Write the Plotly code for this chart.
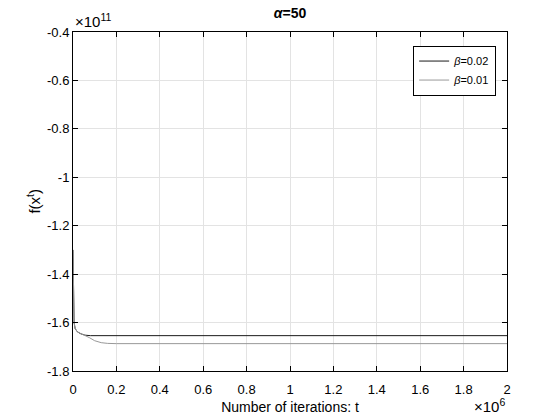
import plotly.graph_objects as go

# iterations and objective values
t_b02 = [0, 1000, 2500, 5000, 10000, 20000, 35000, 55000, 80000, 2000000]
f_b02 = [-1.30e11, -1.45e11, -1.55e11, -1.60e11, -1.625e11, -1.638e11,
         -1.646e11, -1.652e11, -1.654e11, -1.654e11]

t_b01 = [0, 1000, 2500, 5000, 10000, 20000, 35000, 55000, 75000, 100000,
         130000, 160000, 200000, 2000000]
f_b01 = [-1.30e11, -1.45e11, -1.55e11, -1.60e11, -1.625e11, -1.638e11,
         -1.645e11, -1.652e11, -1.662e11, -1.675e11, -1.683e11, -1.686e11,
         -1.687e11, -1.687e11]

x_ticks = [0, 2e5, 4e5, 6e5, 8e5, 1e6, 1.2e6, 1.4e6, 1.6e6, 1.8e6, 2e6]
x_ticktext = ['0', '0.2', '0.4', '0.6', '0.8', '1', '1.2', '1.4', '1.6', '1.8', '2']
y_ticks = [-1.8e11, -1.6e11, -1.4e11, -1.2e11, -1e11, -0.8e11, -0.6e11, -0.4e11]
y_ticktext = ['-1.8', '-1.6', '-1.4', '-1.2', '-1', '-0.8', '-0.6', '-0.4']

FONT = 'Liberation Sans, Arial, sans-serif'

fig = go.Figure()
fig.add_trace(go.Scatter(x=t_b02, y=f_b02, mode='lines', name='<i>β</i>=0.02',
                         line=dict(color='#1a1a1a', width=1)))
fig.add_trace(go.Scatter(x=t_b01, y=f_b01, mode='lines', name='<i>β</i>=0.01',
                         line=dict(color='#999999', width=1)))

axis_common = dict(showline=True, linecolor='black', linewidth=1, mirror='ticks',
                   ticks='inside', ticklen=5, tickcolor='black',
                   showgrid=True, gridcolor='#e3e3e3', gridwidth=1,
                   zeroline=False, automargin=False,
                   tickfont=dict(size=13, color='black'))

fig.update_layout(
    width=560, height=420,
    paper_bgcolor='white', plot_bgcolor='white',
    font=dict(family=FONT, color='black'),
    margin=dict(l=73, r=53, t=32, b=49),
    title=dict(text='<b><i>α</i>=50</b>', x=(73 + 507) / 2 / 560, xanchor='center',
               y=1 - 13 / 420, yanchor='middle', font=dict(size=14)),
    xaxis=dict(range=[0, 2e6], tickvals=x_ticks, ticktext=x_ticktext,
               ticklabelstandoff=6,
               title=dict(text='Number of iterations: t', font=dict(size=14), standoff=6),
               **axis_common),
    yaxis=dict(range=[-1.8e11, -0.4e11], tickvals=y_ticks, ticktext=y_ticktext,
               **axis_common),
    legend=dict(x=0.975, y=0.96, xanchor='right', yanchor='top',
                bgcolor='white', bordercolor='black', borderwidth=1,
                font=dict(size=11), tracegroupgap=0),
    showlegend=True,
    annotations=[
        dict(text='×10<sup>11</sup>', xref='paper', yref='paper', x=0, y=1,
             xanchor='left', yanchor='bottom', showarrow=False, font=dict(size=15)),
        dict(text='×10<sup>6</sup>', xref='paper', yref='paper', x=1, y=-0.067,
             xanchor='right', yanchor='top', showarrow=False, font=dict(size=15)),
        dict(text='f(x<sup>t</sup>)', xref='paper', yref='paper', x=-0.092, y=0.5,
             xanchor='center', yanchor='middle', textangle=-90, showarrow=False,
             font=dict(size=15)),
    ],
)

fig.write_html('out.html', config={'displayModeBar': False},
               post_script="document.body.style.margin='0px';")
